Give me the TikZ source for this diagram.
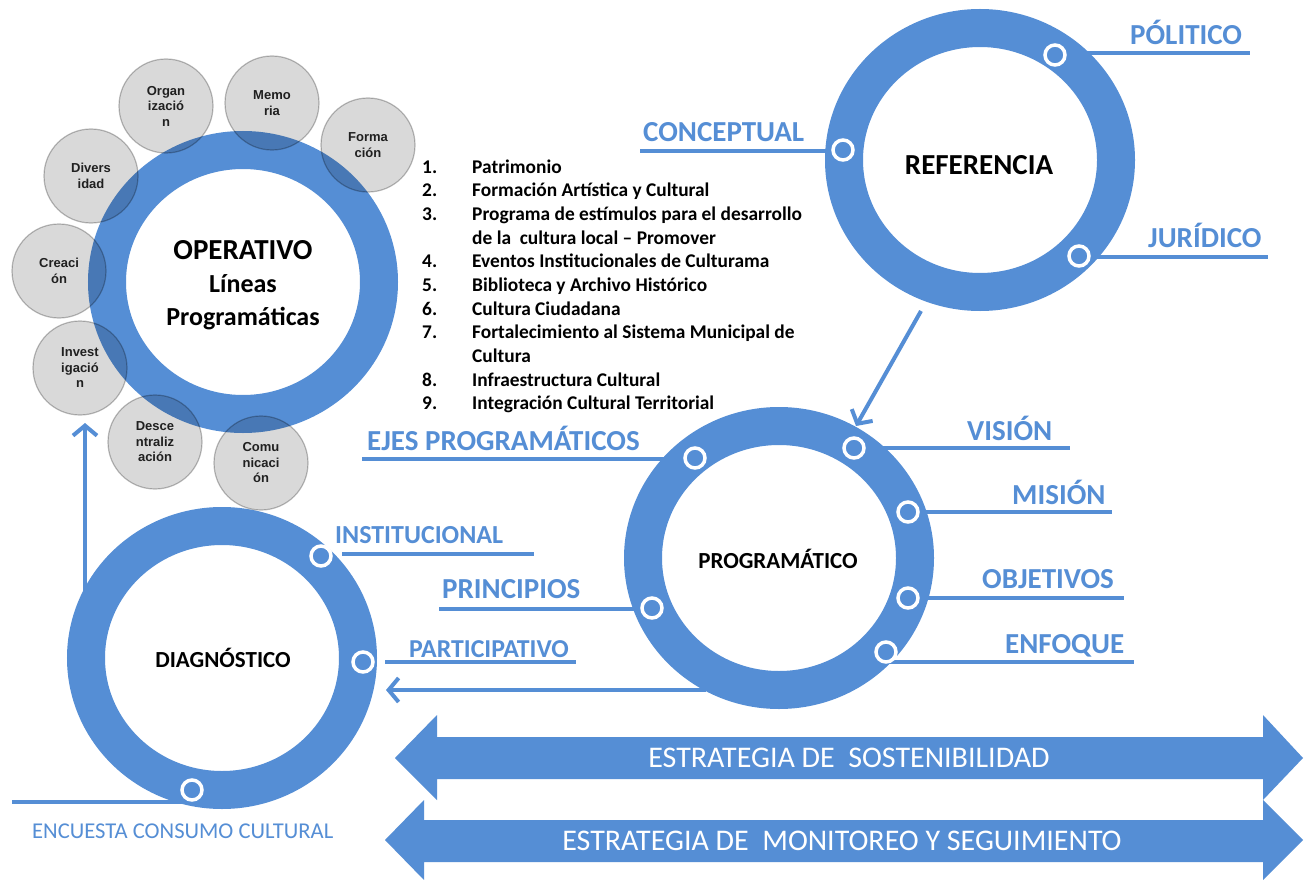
\documentclass[tikz,border=0pt]{standalone}
\usepackage{fontspec}
\setmainfont{Carlito}
\newfontfamily\arialf{Liberation Sans}
\usetikzlibrary{arrows.meta,shapes.geometric}
\pgfdeclarelayer{back}
\pgfsetlayers{back,main}
\definecolor{rb}{RGB}{85,142,213}
\definecolor{gfill}{RGB}{217,217,217}
\definecolor{gline}{RGB}{190,190,190}
\begin{document}
\begin{tikzpicture}[x=1pt,y=-1pt,
  ring/.style={ellipse, draw=rb, line width=38pt, minimum width=272pt, minimum height=264pt, inner sep=0pt},
  mk/.style={circle, fill=rb, draw=white, line width=3.5pt, minimum size=20pt, inner sep=0pt},
  conn/.style={draw=rb, line width=4.5pt},
  lbl/.style={text=rb, font=\fontsize{29}{30}\selectfont\bfseries, inner sep=0pt, anchor=base west},
  ctr/.style={text=black, font=\fontsize{23}{26}\selectfont\bfseries, inner sep=0pt},
  gc/.style={circle, fill=gfill, draw=gline, line width=1.2pt, minimum size=94pt, inner sep=0pt, align=center, font=\arialf\bfseries\fontsize{13}{15.5}\selectfont, text=black!85},
  arr/.style={draw=rb, line width=4pt, -{Straight Barb[length=10pt,width=24pt]}},
  big/.style={fill=rb},
  bigtxt/.style={text=white, font=\fontsize{30}{32}\selectfont, inner sep=0pt}
]
\useasboundingbox (0,0) rectangle (1304,880);
\begin{pgfonlayer}{back}
\fill[white] (0,0) rectangle (1304,880);
\end{pgfonlayer}

% rings
\node[ring] (oper) at (243,282) {};
\node[ring] (ref) at (980,160) {};
\node[ring] (prog) at (779,558) {};
\node[ring] (diag) at (222,658) {};

% gray circles (multiplied over the ring)
\begin{scope}[blend mode=multiply]
\node[gc] (gOrg) at (166,106) {Organ\\izació\\n};
\node[gc] (gMem) at (272,103) {Memo\\ria};
\node[gc] (gFor) at (368,145) {Forma\\ción};
\node[gc] (gDiv) at (91,176) {Divers\\idad};
\node[gc] (gCre) at (59,271) {Creaci\\ón};
\node[gc] (gInv) at (80,368) {Invest\\igació\\n};
\node[gc] (gDes) at (155,442) {Desce\\ntraliz\\ación};
\node[gc] (gCom) at (261,463) {Comu\\nicaci\\ón};
\end{scope}

% ring texts
\node[align=center, inner sep=0pt, font=\bfseries\fontsize{26}{33}\selectfont] (operT) at (243,285) {{\fontsize{29}{33}\selectfont OPERATIVO}\\Líneas\\Programáticas};
\node[ctr, font=\fontsize{29}{30}\selectfont\bfseries] (refT) at (979,165) {REFERENCIA};
\node[ctr] (progT) at (778,559) {PROGRAMÁTICO};
\node[ctr] (diagT) at (223,658) {DIAGNÓSTICO};

% markers
\node[mk] (mCon) at (843,150) {};
\node[mk] (mPol) at (1055,55) {};
\node[mk] (mJur) at (1079,256) {};
\node[mk] (mEje) at (695,458) {};
\node[mk] (mVis) at (854,448) {};
\node[mk] (mMis) at (908,512) {};
\node[mk] (mObj) at (908,598) {};
\node[mk] (mEnf) at (886,652) {};
\node[mk] (mPri) at (652,608) {};
\node[mk] (mIns) at (321,556) {};
\node[mk] (mPar) at (363,662) {};
\node[mk] (mEnc) at (192,790) {};

% line end coordinates
\coordinate (eCon) at (640,151);
\coordinate (ePol) at (1250,53);
\coordinate (eJur) at (1268,257);
\coordinate (eEje) at (362,459);
\coordinate (eVis) at (1070,448);
\coordinate (eMis) at (1112,512);
\coordinate (eObj) at (1124,598);
\coordinate (eEnf) at (1134,662);
\coordinate (ePri) at (439,609);
\coordinate (sIns) at (342,554);
\coordinate (eIns) at (534,554);
\coordinate (sPar) at (385,662);
\coordinate (ePar) at (576,662);
\coordinate (eEnc) at (12,802);
\coordinate (aPD1) at (706,690);
\coordinate (aPD2) at (386,690);
\coordinate (aDO1) at (85,592);
\coordinate (aDO2) at (85,423);
\coordinate (aRP1) at (921,311);
\coordinate (aRP2) at (856,426);

\begin{pgfonlayer}{back}
\draw[conn] (eCon) -- (mCon.center |- eCon);
\draw[conn] (mPol.center |- ePol) -- (ePol);
\draw[conn] (mJur.center |- eJur) -- (eJur);
\draw[conn] (eEje) -- (mEje.center |- eEje);
\draw[conn] (mVis.center |- eVis) -- (eVis);
\draw[conn] (mMis.center |- eMis) -- (eMis);
\draw[conn] (mObj.center |- eObj) -- (eObj);
\draw[conn] (mEnf.center |- eEnf) -- (eEnf);
\draw[conn] (ePri) -- (mPri.center |- ePri);
\draw[conn] (sIns) -- (eIns);
\draw[conn] (sPar) -- (ePar);
\draw[conn] (eEnc) -- (mEnc.center |- eEnc);
\draw[arr] (aPD1) -- (aPD2);
\draw[arr] (aDO1) -- (aDO2);
\draw[arr] (aRP1) -- (aRP2);
\end{pgfonlayer}

% labels
\node[lbl] (tCon) at (643,142) {CONCEPTUAL};
\node[lbl] (tPol) at (1130,45) {PÓLITICO};
\node[lbl] (tJur) at (1148,247) {JURÍDICO};
\node[lbl] (tEje) at (367,450) {EJES PROGRAMÁTICOS};
\node[lbl] (tVis) at (967,440) {VISIÓN};
\node[lbl] (tMis) at (1012,504) {MISIÓN};
\node[lbl] (tObj) at (982,588) {OBJETIVOS};
\node[lbl] (tEnf) at (1005,653) {ENFOQUE};
\node[lbl] (tPri) at (442,598) {PRINCIPIOS};
\node[lbl, font=\fontsize{26}{28}\selectfont\bfseries] (tIns) at (335,543) {INSTITUCIONAL};
\node[lbl, font=\fontsize{25.8}{27}\selectfont\bfseries] (tPar) at (409,657) {PARTICIPATIVO};
\node[lbl, font=\fontsize{22.6}{24}\selectfont] (tEnc) at (32,838) {ENCUESTA CONSUMO CULTURAL};

% numbered list
\node[anchor=base west, inner sep=0pt, font=\bfseries\fontsize{19.4}{23.7}\selectfont] (list) at (422,173) {%
\begin{tabular}[t]{@{}p{50pt}@{}l@{}}
1. & Patrimonio\\
2. & Formación Artística y Cultural\\
3. & Programa de estímulos para el desarrollo\\
   & de la\ \ cultura local -- Promover\\
4. & Eventos Institucionales de Culturama\\
5. & Biblioteca y Archivo Histórico\\
6. & Cultura Ciudadana\\
7. & Fortalecimiento al Sistema Municipal de\\
   & Cultura\\
8. & Infraestructura Cultural\\
9. & Integración Cultural Territorial
\end{tabular}};

% big double arrows
\fill[big] (395,758) -- (437,715) -- (437,737) -- (1263,737) -- (1263,715) -- (1303,758)
  -- (1263,800) -- (1263,779) -- (437,779) -- (437,800) -- cycle;
\fill[big] (385,840) -- (424,800) -- (424,820) -- (1263,820) -- (1263,800) -- (1303,840)
  -- (1263,880) -- (1263,862) -- (424,862) -- (424,880) -- cycle;
\node[bigtxt] (sost) at (849,758) {ESTRATEGIA DE\ \ SOSTENIBILIDAD};
\node[bigtxt] (moni) at (842,841) {ESTRATEGIA DE\ \ MONITOREO Y SEGUIMIENTO};
\end{tikzpicture}
\end{document}
